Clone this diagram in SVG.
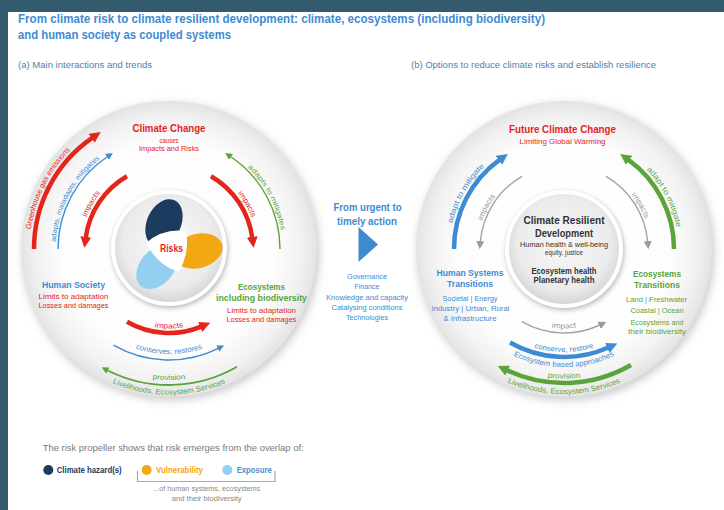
<svg xmlns="http://www.w3.org/2000/svg" width="724" height="510" viewBox="0 0 724 510">
<style>
text{font-family:"Liberation Sans",Arial,sans-serif}
.b{font-weight:bold}
.c{text-anchor:middle}
.red{fill:#e3251b}.blu{fill:#3e8bd2}.grn{fill:#5aa43a}.gry{fill:#9a9a9a}.dk{fill:#333}
.s7{font-size:7px}.s75{font-size:7.5px}.s8{font-size:8px}.s85{font-size:8.5px}.s95{font-size:9.5px}.s10{font-size:10.5px}
.arc{fill:none}
.thk{stroke-width:4.5}.thn{stroke-width:1.4}
.sr{stroke:#e3251b}.sb{stroke:#3e8bd2}.sg{stroke:#5aa43a}.sy{stroke:#a3a3a3}
</style>
<defs>
<radialGradient id="disc" cx="50%" cy="50%" r="50%">
<stop offset="0" stop-color="#ffffff"/><stop offset="0.72" stop-color="#fdfdfd"/><stop offset="0.9" stop-color="#f1f1f1"/><stop offset="1" stop-color="#e3e3e3"/>
</radialGradient>
<radialGradient id="inner" cx="50%" cy="45%" r="55%">
<stop offset="0" stop-color="#f8f8f8"/><stop offset="0.75" stop-color="#ebebeb"/><stop offset="1" stop-color="#d3d3d3"/>
</radialGradient>
<filter id="blur" x="-20%" y="-20%" width="140%" height="140%"><feGaussianBlur stdDeviation="5"/></filter>
<filter id="blur2" x="-20%" y="-20%" width="140%" height="140%"><feGaussianBlur stdDeviation="2.5"/></filter>
<marker id="hR" viewBox="0 0 10 10" refX="1" refY="5" markerWidth="11" markerHeight="11" markerUnits="userSpaceOnUse" orient="auto"><path d="M0,0 L10,5 L0,10 z" fill="#e3251b"/></marker>
<marker id="hB" viewBox="0 0 10 10" refX="1" refY="5" markerWidth="11" markerHeight="11" markerUnits="userSpaceOnUse" orient="auto"><path d="M0,0 L10,5 L0,10 z" fill="#3e8bd2"/></marker>
<marker id="hG" viewBox="0 0 10 10" refX="1" refY="5" markerWidth="11" markerHeight="11" markerUnits="userSpaceOnUse" orient="auto"><path d="M0,0 L10,5 L0,10 z" fill="#5aa43a"/></marker>
<marker id="hb" viewBox="0 0 10 10" refX="1" refY="5" markerWidth="7" markerHeight="7" markerUnits="userSpaceOnUse" orient="auto"><path d="M0,0 L10,5 L0,10 z" fill="#3e8bd2"/></marker>
<marker id="hg" viewBox="0 0 10 10" refX="1" refY="5" markerWidth="7" markerHeight="7" markerUnits="userSpaceOnUse" orient="auto"><path d="M0,0 L10,5 L0,10 z" fill="#5aa43a"/></marker>
<marker id="hy" viewBox="0 0 10 10" refX="1" refY="5" markerWidth="8" markerHeight="8" markerUnits="userSpaceOnUse" orient="auto"><path d="M0,0 L10,5 L0,10 z" fill="#9a9a9a"/></marker>
<path id="tp1" d="M30.9,229.6 A139.5,139.5 0 0 1 83.1,139.1"/>
<path id="tp2" d="M55.7,242.1 A113.5,113.5 0 0 1 108.9,152.7"/>
<path id="tp3" d="M86.4,217.3 A88.5,88.5 0 0 1 118.2,176.5"/>
<path id="tp4" d="M237.8,193.3 A88.5,88.5 0 0 1 256.2,233.6"/>
<path id="tp5" d="M247.8,167.4 A113.5,113.5 0 0 1 282.1,239.1"/>
<path id="tp6" d="M141.8,323.7 A79.5,79.5 0 0 0 196.2,323.7"/>
<path id="tp7" d="M124.6,344.2 A105,105 0 0 0 213.4,344.2"/>
<path id="tp8" d="M135.1,375.5 A131,131 0 0 0 202.9,375.5"/>
<path id="tp9" d="M100.7,377.5 A145.5,145.5 0 0 0 237.3,377.5"/>
<path id="tq1" d="M452.4,223.2 A114.5,114.5 0 0 1 498.3,155.2"/>
<path id="tq2" d="M482.2,220.8 A86.5,86.5 0 0 1 514.4,178.1"/>
<path id="tq3" d="M631.2,194.6 A86.5,86.5 0 0 1 650.2,241.5"/>
<path id="tq4" d="M646.4,169.5 A114.5,114.5 0 0 1 678.1,239"/>
<path id="tq5" d="M536.8,323.7 A79.5,79.5 0 0 0 591.2,323.7"/>
<path id="tq6" d="M528.8,345.8 A103,103 0 0 0 599.2,345.8"/>
<path id="tq7" d="M508.6,353.2 A118,118 0 0 0 619.4,353.2"/>
<path id="tq8" d="M530.5,374.1 A129.5,129.5 0 0 0 597.5,374.1"/>
<path id="tq9" d="M495.9,377 A145,145 0 0 0 632.1,377"/>
<clipPath id="cb"><ellipse cx="157" cy="267" rx="25" ry="17" transform="rotate(-50 157 267)"/></clipPath>
</defs>

<rect x="0" y="0" width="724" height="510" fill="#ffffff"/>
<rect x="0" y="0" width="724" height="12" fill="#345a6d"/>
<rect x="0" y="0" width="8" height="510" fill="#345a6d"/>

<g id="title">
<text x="18" y="22.5" class="b blu" font-size="12" textLength="527" lengthAdjust="spacingAndGlyphs">From climate risk to climate resilient development: climate, ecosystems (including biodiversity)</text>
<text x="18" y="38.5" class="b blu" font-size="12" textLength="213" lengthAdjust="spacingAndGlyphs">and human society as coupled systems</text>
<text x="18" y="68" class="s85" fill="#4f7fae" textLength="134" lengthAdjust="spacingAndGlyphs">(a) Main interactions and trends</text>
<text x="411" y="68" class="s85" fill="#4f7fae" textLength="245" lengthAdjust="spacingAndGlyphs">(b) Options to reduce climate risks and establish resilience</text>
</g>

<g id="discs">
<circle cx="171" cy="252" r="148" fill="#c8c8c8" filter="url(#blur)"/>
<circle cx="169" cy="249" r="148" fill="url(#disc)"/>
<circle cx="566" cy="252" r="148" fill="#c8c8c8" filter="url(#blur)"/>
<circle cx="564" cy="249" r="148" fill="url(#disc)"/>
</g>

<g id="risks">
<circle cx="170" cy="250" r="58" fill="#b5b5b5" filter="url(#blur2)"/>
<circle cx="169" cy="248" r="56" fill="url(#inner)" stroke="#ffffff" stroke-width="4"/>
<ellipse cx="157" cy="267" rx="25" ry="17" transform="rotate(-50 157 267)" fill="#92cff0"/>
<ellipse cx="164" cy="223" rx="17" ry="25" transform="rotate(25 164 223)" fill="#1d3a5f"/>
<ellipse cx="198" cy="251" rx="25" ry="17" transform="rotate(-15 198 251)" fill="#f3a712"/>
<ellipse cx="198" cy="251" rx="25" ry="17" transform="rotate(-15 198 251)" fill="#d9782d" clip-path="url(#cb)"/>
<path d="M146,243 Q163,228 186,231 Q190,252 179,272 Q158,266 146,243 Z" fill="#ffffff"/>
<text x="171.5" y="252" class="b red c s10" textLength="23" lengthAdjust="spacingAndGlyphs">Risks</text>
</g>

<g id="climate-change">
<text x="169" y="132" class="b red c s10" textLength="73" lengthAdjust="spacingAndGlyphs">Climate Change</text>
<text x="169" y="143" class="red c s75" textLength="19" lengthAdjust="spacingAndGlyphs">causes</text>
<text x="169" y="151" class="red c s75" textLength="60" lengthAdjust="spacingAndGlyphs">Impacts and Risks</text>
</g>

<g id="human-society">
<text x="73.5" y="288" class="b blu c s95" textLength="63" lengthAdjust="spacingAndGlyphs">Human Society</text>
<text x="73.5" y="299" class="red c s8" textLength="70" lengthAdjust="spacingAndGlyphs">Limits to adaptation</text>
<text x="73.5" y="308" class="red c s8" textLength="70" lengthAdjust="spacingAndGlyphs">Losses and damages</text>
</g>

<g id="ecosystems">
<text x="261.5" y="289.5" class="b grn c s95" textLength="47" lengthAdjust="spacingAndGlyphs">Ecosystems</text>
<text x="261.5" y="301" class="b grn c s95" textLength="91" lengthAdjust="spacingAndGlyphs">including biodiversity</text>
<text x="261.5" y="313" class="red c s8" textLength="69" lengthAdjust="spacingAndGlyphs">Limits to adaptation</text>
<text x="261.5" y="322" class="red c s8" textLength="70" lengthAdjust="spacingAndGlyphs">Losses and damages</text>
</g>

<g id="action">
<text x="367.5" y="211" class="b blu c s10" textLength="68" lengthAdjust="spacingAndGlyphs">From urgent to</text>
<text x="367" y="224.5" class="b blu c s10" textLength="60" lengthAdjust="spacingAndGlyphs">timely action</text>
<path d="M358.5,227 L378,244.5 L358.5,262 Z" fill="#3e8bd2"/>
<text x="367" y="278.5" class="blu c s75" textLength="40" lengthAdjust="spacingAndGlyphs">Governance</text>
<text x="367" y="289" class="blu c s75" textLength="25" lengthAdjust="spacingAndGlyphs">Finance</text>
<text x="367" y="299.5" class="blu c s75" textLength="82" lengthAdjust="spacingAndGlyphs">Knowledge and capacity</text>
<text x="367" y="309.5" class="blu c s75" textLength="71" lengthAdjust="spacingAndGlyphs">Catalysing conditions</text>
<text x="367" y="319.5" class="blu c s75" textLength="42" lengthAdjust="spacingAndGlyphs">Technologies</text>
</g>

<g id="resilient-development">
<circle cx="565" cy="251" r="59" fill="#b5b5b5" filter="url(#blur2)"/>
<circle cx="564" cy="249" r="57" fill="url(#inner)" stroke="#ffffff" stroke-width="4"/>
<text x="564" y="223.5" class="b dk c s10" textLength="81" lengthAdjust="spacingAndGlyphs">Climate Resilient</text>
<text x="564" y="236.5" class="b dk c s10" textLength="58" lengthAdjust="spacingAndGlyphs">Development</text>
<text x="564" y="246.5" class="dk c s75" textLength="88" lengthAdjust="spacingAndGlyphs">Human health &amp; well-being</text>
<text x="564" y="255" class="dk c s75" textLength="38" lengthAdjust="spacingAndGlyphs">equity, justice</text>
<text x="564" y="274" class="b dk c s85" textLength="65" lengthAdjust="spacingAndGlyphs">Ecosystem health</text>
<text x="564" y="283" class="b dk c s85" textLength="61" lengthAdjust="spacingAndGlyphs">Planetary health</text>
</g>

<g id="future-climate-change">
<text x="562.5" y="133" class="b red c s10" textLength="107" lengthAdjust="spacingAndGlyphs">Future Climate Change</text>
<text x="562.5" y="143.5" class="red c s8" textLength="86" lengthAdjust="spacingAndGlyphs">Limiting Global Warming</text>
</g>

<g id="human-systems-transitions">
<text x="470" y="276" class="b blu c s95" textLength="67" lengthAdjust="spacingAndGlyphs">Human Systems</text>
<text x="470" y="287" class="b blu c s95" textLength="46" lengthAdjust="spacingAndGlyphs">Transitions</text>
<text x="470" y="301" class="blu c s8" textLength="55" lengthAdjust="spacingAndGlyphs">Societal | Energy</text>
<text x="470.5" y="311" class="blu c s8" textLength="78" lengthAdjust="spacingAndGlyphs">Industry | Urban, Rural</text>
<text x="470" y="321" class="blu c s8" textLength="53" lengthAdjust="spacingAndGlyphs">&amp; Infrastructure</text>
</g>

<g id="ecosystems-transitions">
<text x="657" y="277" class="b grn c s95" textLength="48" lengthAdjust="spacingAndGlyphs">Ecosystems</text>
<text x="657" y="288" class="b grn c s95" textLength="46" lengthAdjust="spacingAndGlyphs">Transitions</text>
<text x="656.5" y="302" class="grn c s8" textLength="61" lengthAdjust="spacingAndGlyphs">Land | Freshwater</text>
<text x="657" y="313" class="grn c s8" textLength="53" lengthAdjust="spacingAndGlyphs">Coastal | Ocean</text>
<text x="657" y="324.5" class="grn c s8" textLength="53" lengthAdjust="spacingAndGlyphs">Ecosystems and</text>
<text x="657" y="333.5" class="grn c s8" textLength="58" lengthAdjust="spacingAndGlyphs">their biodiversity</text>
</g>

<g id="connectors">
<path class="arc thk sr" d="M34,249 A135,135 0 0 1 92.5,137.7" marker-end="url(#hR)"/>
<path class="arc thn sb" d="M58,249 A111,111 0 0 1 107.6,156.5" marker-end="url(#hb)"/>
<path class="arc thk sr" d="M127,176.3 A84,84 0 0 0 85.7,238" marker-end="url(#hR)"/>
<path class="arc thk sr" d="M211,176.3 A84,84 0 0 1 252.3,238" marker-end="url(#hR)"/>
<path class="arc thn sg" d="M280,249 A111,111 0 0 0 230.4,156.5" marker-end="url(#hg)"/>
<path class="arc thk sr" d="M127,321.7 A84,84 0 0 0 201.1,326.6" marker-end="url(#hR)"/>
<path class="arc thn sb" d="M113.5,345.1 A111,111 0 0 0 218.4,348.4" marker-end="url(#hb)"/>
<path class="arc sg" stroke-width="1.8" d="M237,366.8 A136,136 0 0 1 107.3,370.2" marker-end="url(#hg)"/>
<path class="arc thk sb" d="M454,249 A110,110 0 0 1 499.8,159.7" marker-end="url(#hB)"/>
<path class="arc thn sy" d="M522,176.3 A84,84 0 0 0 480.3,242" marker-end="url(#hy)"/>
<path class="arc thn sy" d="M606,176.3 A84,84 0 0 1 647.7,242" marker-end="url(#hy)"/>
<path class="arc thk sg" d="M674,249 A110,110 0 0 0 628.2,159.7" marker-end="url(#hG)"/>
<path class="arc thn sy" d="M522,321.7 A84,84 0 0 0 599.8,325" marker-end="url(#hy)"/>
<path class="arc thk sb" d="M510,342.5 A108,108 0 0 0 608.3,347.5" marker-end="url(#hB)"/>
<path class="arc thk sg" d="M631,365 A134,134 0 0 1 506.7,370.2" marker-end="url(#hG)"/>

<text class="red s75"><textPath href="#tp1" textLength="90" lengthAdjust="spacingAndGlyphs">Greenhouse gas emissions</textPath></text>
<text class="blu s7"><textPath href="#tp2" textLength="97" lengthAdjust="spacingAndGlyphs">adapts, maladapts, mitigates</textPath></text>
<text class="red s75"><textPath href="#tp3" textLength="28" lengthAdjust="spacingAndGlyphs">impacts</textPath></text>
<text class="red s75"><textPath href="#tp4" textLength="28" lengthAdjust="spacingAndGlyphs">impacts</textPath></text>
<text class="grn s7"><textPath href="#tp5" textLength="72" lengthAdjust="spacingAndGlyphs">adapts to mitigates</textPath></text>
<text class="red s75 c"><textPath href="#tp6" startOffset="50%" textLength="29" lengthAdjust="spacingAndGlyphs">impacts</textPath></text>
<text class="blu s75 c"><textPath href="#tp7" startOffset="50%" textLength="68" lengthAdjust="spacingAndGlyphs">conserves, restores</textPath></text>
<text class="grn s75 c"><textPath href="#tp8" startOffset="50%" textLength="33" lengthAdjust="spacingAndGlyphs">provision</textPath></text>
<text class="grn s75 c"><textPath href="#tp9" startOffset="50%" textLength="116" lengthAdjust="spacingAndGlyphs">Livelihoods, Ecosystem Services</textPath></text>
<text class="blu s75"><textPath href="#tq1" textLength="66" lengthAdjust="spacingAndGlyphs">adapt to mitigate</textPath></text>
<text class="gry s75"><textPath href="#tq2" textLength="28" lengthAdjust="spacingAndGlyphs">impacts</textPath></text>
<text class="gry s75"><textPath href="#tq3" textLength="28" lengthAdjust="spacingAndGlyphs">impacts</textPath></text>
<text class="grn s75"><textPath href="#tq4" textLength="66" lengthAdjust="spacingAndGlyphs">adapt to mitigate</textPath></text>
<text class="gry s75 c"><textPath href="#tq5" startOffset="50%" textLength="25" lengthAdjust="spacingAndGlyphs">impact</textPath></text>
<text class="blu s75 c"><textPath href="#tq6" startOffset="50%" textLength="60" lengthAdjust="spacingAndGlyphs">conserve, restore</textPath></text>
<text class="blu s75 c"><textPath href="#tq7" startOffset="50%" textLength="104" lengthAdjust="spacingAndGlyphs">Ecosystem based approaches</textPath></text>
<text class="grn s75 c"><textPath href="#tq8" startOffset="50%" textLength="33" lengthAdjust="spacingAndGlyphs">provision</textPath></text>
<text class="grn s75 c"><textPath href="#tq9" startOffset="50%" textLength="116" lengthAdjust="spacingAndGlyphs">Livelihoods, Ecosystem Services</textPath></text>
</g>

<g id="legend">
<text x="42.7" y="451" font-size="9" fill="#7a7a7a" textLength="261" lengthAdjust="spacingAndGlyphs">The risk propeller shows that risk emerges from the overlap of:</text>
<circle cx="48.3" cy="470" r="5" fill="#1d3a5f"/>
<text x="56.7" y="473" class="b s85" fill="#1d3a5f" textLength="65" lengthAdjust="spacingAndGlyphs">Climate hazard(s)</text>
<path d="M137.5,471 V481.5 H275 V471" fill="none" stroke="#aaaaaa" stroke-width="1.2"/>
<circle cx="146.7" cy="470" r="5" fill="#f3a712"/>
<text x="156" y="473" class="b s85" fill="#f3a712" textLength="47" lengthAdjust="spacingAndGlyphs">Vulnerability</text>
<circle cx="227.3" cy="470" r="5" fill="#92cff0"/>
<text x="236.7" y="473" class="b s85" fill="#4a90d0" textLength="35" lengthAdjust="spacingAndGlyphs">Exposure</text>
<text x="206.7" y="491" class="c s75" fill="#888888" textLength="107" lengthAdjust="spacingAndGlyphs">...of human systems, ecosystems</text>
<text x="206.7" y="501" class="c s75" fill="#888888" textLength="70" lengthAdjust="spacingAndGlyphs">and their biodiversity</text>
</g>
</svg>
